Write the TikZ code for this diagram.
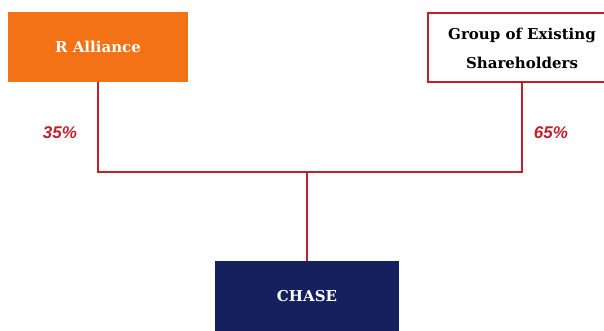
\documentclass[tikz,border=0pt]{standalone}
\usepackage{fontspec}
\setmainfont{DejaVu Serif}
\newfontfamily\pctfont{Liberation Sans}

\definecolor{raorange}{HTML}{F47216}
\definecolor{chasenavy}{HTML}{15205E}
\definecolor{linkred}{HTML}{C0202C}

\begin{document}
\begin{tikzpicture}[x=1pt, y=-1pt,
    owner/.style={minimum width=180pt, minimum height=70pt, inner sep=0pt, align=center, font=\bfseries\fontsize{15}{29}\selectfont},
    share/.style={text=linkred, font=\pctfont\bfseries\itshape\fontsize{17}{19}\selectfont},
    link/.style={draw=linkred, line width=1.8pt}]

    % page size
    \useasboundingbox (0,0) rectangle (604,331);

    % shareholders
    \node[owner, fill=raorange, text=white] (ra) at (98,47) {R Alliance};
    \node[owner, draw=linkred, line width=2pt, fill=white, minimum width=189pt, minimum height=69pt] (gs) at (522,48) {Group of Existing\\Shareholders};

    % company
    \node[owner, fill=chasenavy, text=white, minimum width=184pt] (chase) at (307,296) {CHASE};

    % ownership lines
    \coordinate (join) at (307,172);
    \draw[link] (ra.south) |- (join) -| (gs.south);
    \draw[link] (join) -- (chase.north);

    % percentages
    \node[share] (pctra) at (60,133) {35\%};
    \node[share] (pctgs) at (551,133) {65\%};

\end{tikzpicture}
\end{document}
